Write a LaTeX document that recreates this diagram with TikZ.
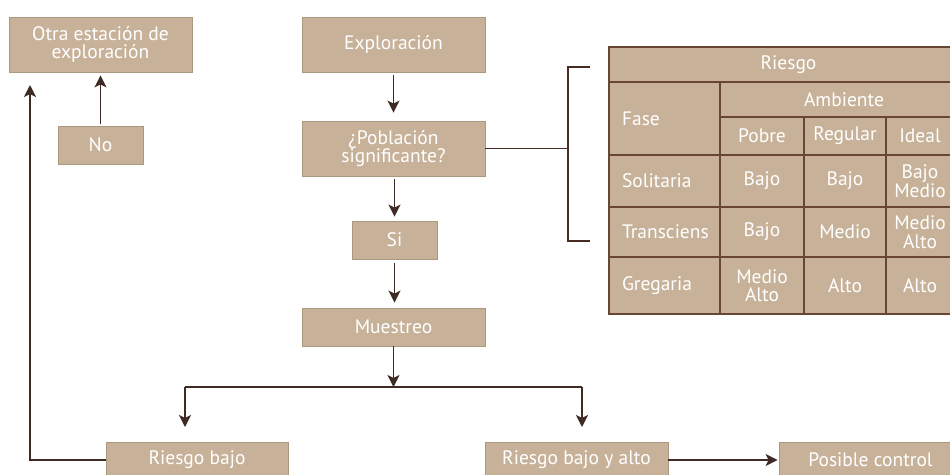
\documentclass[tikz,border=0pt]{standalone}
\usepackage{fontspec}
\setmainfont{PT Sans}
\usetikzlibrary{arrows.meta}
\definecolor{boxfill}{HTML}{C7B299}
\definecolor{boxedge}{HTML}{AC977F}
\definecolor{arrowc}{HTML}{3E2B24}
\definecolor{bracketc}{HTML}{4A2A22}
\definecolor{gridc}{HTML}{684634}
\begin{document}
\begin{tikzpicture}[x=1pt,y=-1pt,
  every node/.style={font=\fontsize{19.5}{18.5}\selectfont, text=white},
  box/.style={draw=boxedge, line width=0.8pt, fill=boxfill, inner sep=0pt, align=center},
  cell/.style={draw=gridc, line width=1.1pt, fill=boxfill, inner sep=0pt, align=center},
  lcell/.style={cell, text width=85pt, inner xsep=13pt, align=left},
  arr/.style={draw=arrowc, line width=1.6pt, -{Stealth[length=12pt,width=12pt,inset=3pt]}},
  ln/.style={draw=arrowc, line width=1.6pt},
  brk/.style={draw=bracketc, line width=1.8pt}]
\clip (0,0) rectangle (950,474);
\useasboundingbox (0,0) rectangle (950,474);
\fill[white] (0,0) rectangle (950,474);

% flow boxes
\node[box, minimum width=183, minimum height=55] (otra) at (100.5,44.5) {Otra estación de\\exploración};
\node[box, minimum width=85, minimum height=38] (no) at (100.5,145) {No};
\node[box, minimum width=183, minimum height=55] (expl) at (393.5,44.5) {Exploración};
\node[box, minimum width=183, minimum height=55] (pob) at (393.5,148.5) {¿Población\\significante?};
\node[box, minimum width=85, minimum height=38] (si) at (394.5,240) {Si};
\node[box, minimum width=183, minimum height=38] (mue) at (393.5,327) {Muestreo};
\node[box, minimum width=182, minimum height=36] (rb) at (197,460) {Riesgo bajo};
\node[box, minimum width=183, minimum height=36] (rba) at (576.5,460) {Riesgo bajo y alto};
\node[box, minimum width=183, minimum height=36] (pc) at (870.5,460) {Posible control};

% free ends
\coordinate (up) at (30,85);
\coordinate (jm) at (393.5,387);
\coordinate (jl) at (185,387);
\coordinate (jr) at (582,387);
\coordinate (tl) at (185,427);
\coordinate (tr) at (582,427);
\coordinate (bm) at (568,148.5);
\coordinate (bt) at (590,67);
\coordinate (btc) at (568,67);
\coordinate (bbc) at (568,241);
\coordinate (bb) at (590,241);

% connectors
\draw[arr, shorten <=2pt, shorten >=3pt] (no.north) -- (otra.south);
\draw[arr] (rb.west) -| (up);
\draw[arr, shorten <=3pt, shorten >=8pt] (expl.south) -- (pob.north);
\draw[arr, shorten <=3pt, shorten >=4pt] (pob.south -| si.north) -- (si.north);
\draw[arr, shorten <=4pt, shorten >=5pt] (si.south) -- (si.south |- mue.north);
\draw[arr] (mue.south) -- (jm);
\draw[ln] (jl) -- (jr);
\draw[arr] (jl) -- (tl);
\draw[arr] (jr) -- (tr);
\draw[arr, shorten >=1pt] (rba.east) -- (pc.west);
\draw[brk] (pob.east) -- (bm);
\draw[brk] (bt) -- (btc) -- (bbc) -- (bb);

% table
\node[cell, minimum width=359, minimum height=35] (riesgo) at (788.5,64.5) {Riesgo};
\node[lcell, minimum width=111, minimum height=73] (fase) at (664.5,118.5) {Fase};
\node[cell, minimum width=248, minimum height=35] (amb) at (844,99.5) {Ambiente};
\node[cell, minimum width=84, minimum height=38] (pobre) at (762,136) {Pobre};
\node[cell, minimum width=82, minimum height=38] (regular) at (845,136) {Regular};
\node[cell, minimum width=68, minimum height=38] (ideal) at (920,136) {Ideal};

\node[lcell, minimum width=111, minimum height=52] (sol) at (664.5,181) {Solitaria};
\node[cell, minimum width=84, minimum height=52] (s1) at (762,181) {Bajo};
\node[cell, minimum width=82, minimum height=52] (s2) at (845,181) {Bajo};
\node[cell, minimum width=68, minimum height=52] (s3) at (920,181) {Bajo\\Medio};

\node[lcell, minimum width=111, minimum height=50] (tra) at (664.5,232) {Transciens};
\node[cell, minimum width=84, minimum height=50] (t1) at (762,232) {Bajo};
\node[cell, minimum width=82, minimum height=50] (t2) at (845,232) {Medio};
\node[cell, minimum width=68, minimum height=50] (t3) at (920,232) {Medio\\Alto};

\node[lcell, minimum width=111, minimum height=57] (gre) at (664.5,285.5) {Gregaria};
\node[cell, minimum width=84, minimum height=57] (g1) at (762,285.5) {Medio\\Alto};
\node[cell, minimum width=82, minimum height=57] (g2) at (845,285.5) {Alto};
\node[cell, minimum width=68, minimum height=57] (g3) at (920,285.5) {Alto};
\end{tikzpicture}
\end{document}
